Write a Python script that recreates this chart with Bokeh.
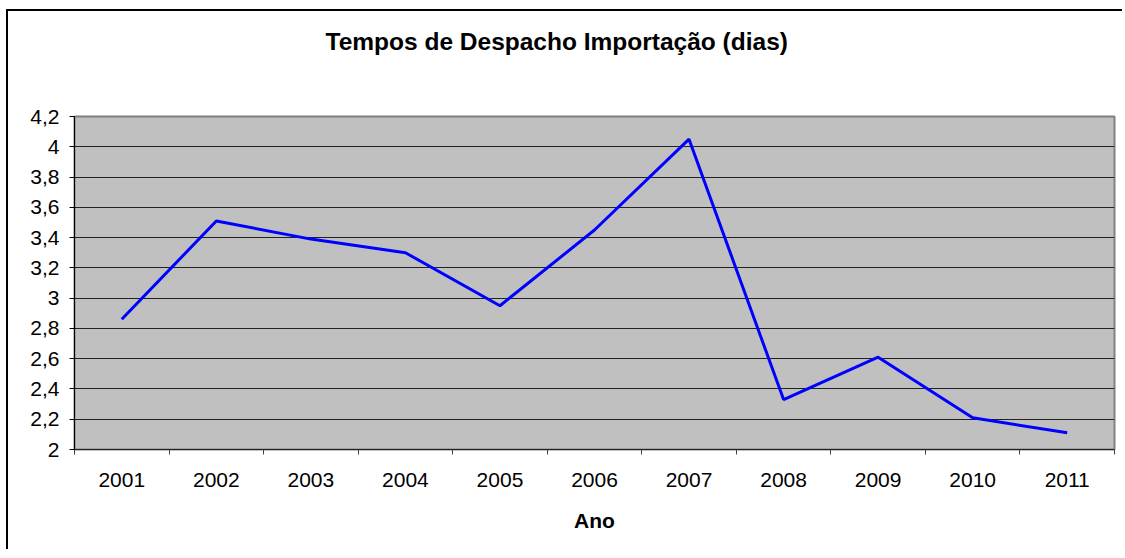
from bokeh.plotting import figure
from bokeh.models import FixedTicker, Title
from bokeh.embed import file_html
from bokeh.resources import INLINE

title_text = "Tempos de Despacho Importação (dias)"
years = ["2001", "2002", "2003", "2004", "2005", "2006", "2007", "2008", "2009", "2010", "2011"]
dias = [2.86, 3.51, 3.39, 3.30, 2.95, 3.45, 4.05, 2.33, 2.61, 2.21, 2.11]
y_ticks = [2.0, 2.2, 2.4, 2.6, 2.8, 3.0, 3.2, 3.4, 3.6, 3.8, 4.0, 4.2]
y_labels = ["2", "2,2", "2,4", "2,6", "2,8", "3", "3,2", "3,4", "3,6", "3,8", "4", "4,2"]

xs = list(range(1, len(years) + 1))
FONT = "Liberation Sans"

p = figure(width=1116, height=540, output_backend="svg", toolbar_location=None,
           x_range=(0.5, len(years) + 0.5), y_range=(2.0, 4.2),
           min_border_left=66, min_border_right=10, min_border_top=105, min_border_bottom=102,
           background_fill_color="#C0C0C0", border_fill_color="white",
           outline_line_color="#808080", outline_line_width=2)
p.styles = {"margin-top": "11px", "margin-left": "8px",
            "box-shadow": "-2px -2px 0px 0px black"}

# spacer between the frame and the title (nearest to the frame)
p.add_layout(Title(text=" ", text_font=FONT, text_font_size="10px", standoff=44), "above")
p.title = Title(text=title_text, align="left", offset=251,
                text_font=FONT, text_font_size="24.5px", text_font_style="bold",
                text_color="black", standoff=10)

p.line(xs, dias, line_color="#0000FF", line_width=3)

p.xgrid.visible = False
p.ygrid.ticker = FixedTicker(ticks=y_ticks)
p.ygrid.grid_line_color = "#222222"
p.ygrid.grid_line_width = 1

p.yaxis.ticker = FixedTicker(ticks=y_ticks)
p.yaxis.major_label_overrides = {t: l for t, l in zip(y_ticks, y_labels)}
p.yaxis.major_tick_out = 5
p.yaxis.major_tick_in = 0
p.yaxis.minor_tick_out = 0
p.yaxis.axis_line_color = "black"
p.yaxis.major_tick_line_color = "black"
p.yaxis.major_label_standoff = 10
p.yaxis.major_label_text_font = FONT
p.yaxis.major_label_text_font_size = "21px"
p.yaxis.major_label_text_color = "black"

p.xaxis.ticker = FixedTicker(ticks=xs, minor_ticks=[x + 0.5 for x in [0] + xs])
p.xaxis.major_label_overrides = {x: y for x, y in zip(xs, years)}
p.xaxis.major_tick_out = 0
p.xaxis.major_tick_in = 0
p.xaxis.minor_tick_out = 5
p.xaxis.minor_tick_in = 0
p.xaxis.minor_tick_line_color = "#404040"
p.xaxis.axis_line_color = "#222222"
p.xaxis.major_label_standoff = 18
p.xaxis.major_label_text_font = FONT
p.xaxis.major_label_text_font_size = "21px"
p.xaxis.major_label_text_color = "black"
p.xaxis.axis_label = "Ano"
p.xaxis.axis_label_text_font = FONT
p.xaxis.axis_label_text_font_size = "21px"
p.xaxis.axis_label_text_font_style = "bold"
p.xaxis.axis_label_text_color = "black"
p.xaxis.axis_label_standoff = 19

open("out.html", "w").write(file_html(p, INLINE))
